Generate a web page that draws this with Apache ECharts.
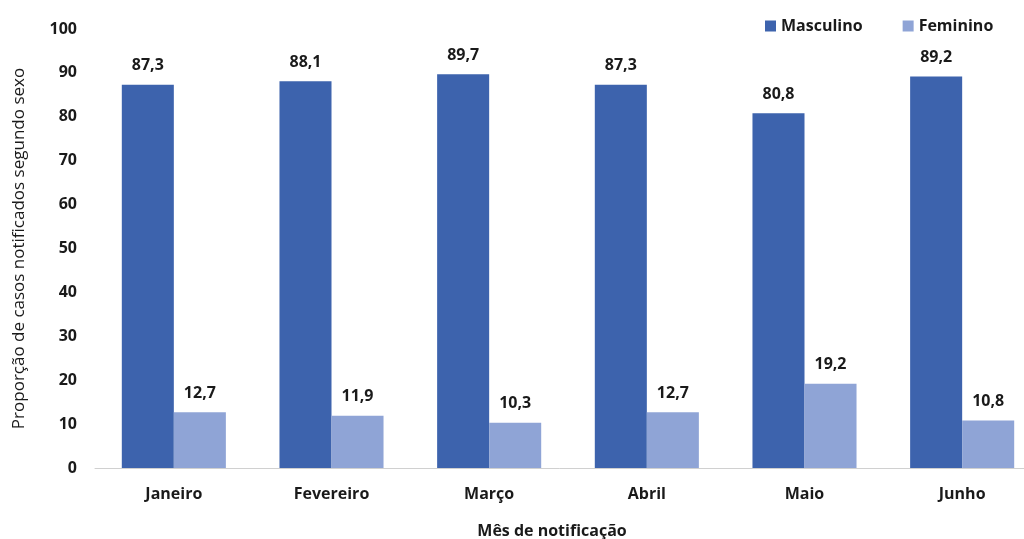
<!DOCTYPE html>
<html>
<head>
<meta charset="utf-8">
<script src="https://cdn.jsdelivr.net/npm/echarts@6/dist/echarts.min.js"></script>
<style>
  html, body { margin: 0; padding: 0; background: #ffffff; }
  #chart { width: 1024px; height: 539px; }
</style>
</head>
<body>
<div id="chart"></div>
<script>
// Monthly share of notified cases by sex
const months = ['Janeiro', 'Fevereiro', 'Março', 'Abril', 'Maio', 'Junho'];
const masculino = [87.3, 88.1, 89.7, 87.3, 80.8, 89.2];
const feminino = [12.7, 11.9, 10.3, 12.7, 19.2, 10.8];
const yTicks = [0, 10, 20, 30, 40, 50, 60, 70, 80, 90, 100];

const FONT = '"Open Sans", "Liberation Sans", sans-serif';
const TEXT = '#1a1a1a';
const FS = 16;

const chart = echarts.init(document.getElementById('chart'), null, { renderer: 'canvas' });

const fmt = p => p.value.toFixed(1).replace('.', ',');

chart.setOption({
  animation: false,
  textStyle: { fontFamily: FONT },
  legend: {
    top: 13,
    left: 760,
    itemWidth: 11,
    itemHeight: 11,
    itemGap: 40,
    icon: 'rect',
    textStyle: { fontFamily: FONT, fontWeight: 'bold', fontSize: FS, color: TEXT },
    data: ['Masculino', 'Feminino']
  },
  grid: {
    left: 95, top: 29, width: 946, height: 439,
    containLabel: false, outerBoundsMode: 'none'
  },
  xAxis: {
    type: 'category',
    data: months,
    name: 'Mês de notificação',
    nameLocation: 'middle',
    nameGap: 55,
    nameTextStyle: { fontFamily: FONT, fontWeight: 'bold', fontSize: FS, color: TEXT, padding: [0, 0, 0, -32] },
    axisLine: { lineStyle: { color: '#d0d0d0', width: 1 } },
    axisTick: { show: false },
    axisLabel: { margin: 18, fontFamily: FONT, fontWeight: 'bold', fontSize: FS, color: TEXT }
  },
  yAxis: {
    type: 'value',
    min: 0,
    max: 100,
    interval: 10,
    name: 'Proporção de casos notificados segundo sexo',
    nameLocation: 'middle',
    nameGap: 67,
    nameTextStyle: { fontFamily: FONT, fontSize: 17, color: TEXT },
    axisLine: { show: false },
    axisTick: { show: false },
    splitLine: { show: false },
    axisLabel: {
      margin: 18,
      fontFamily: FONT, fontWeight: 'bold', fontSize: FS, color: TEXT,
      formatter: v => (yTicks.includes(v) ? String(v) : '')
    }
  },
  series: [
    {
      name: 'Masculino',
      type: 'bar',
      data: masculino,
      barGap: '0%',
      barCategoryGap: '34%',
      itemStyle: { color: '#3d63ad' },
      label: {
        show: true, position: 'top', distance: 11, formatter: fmt,
        fontFamily: FONT, fontWeight: 'bold', fontSize: FS, color: TEXT
      }
    },
    {
      name: 'Feminino',
      type: 'bar',
      data: feminino,
      itemStyle: { color: '#8fa4d6' },
      label: {
        show: true, position: 'top', distance: 11, formatter: fmt,
        fontFamily: FONT, fontWeight: 'bold', fontSize: FS, color: TEXT
      }
    }
  ]
});
</script>
</body>
</html>
